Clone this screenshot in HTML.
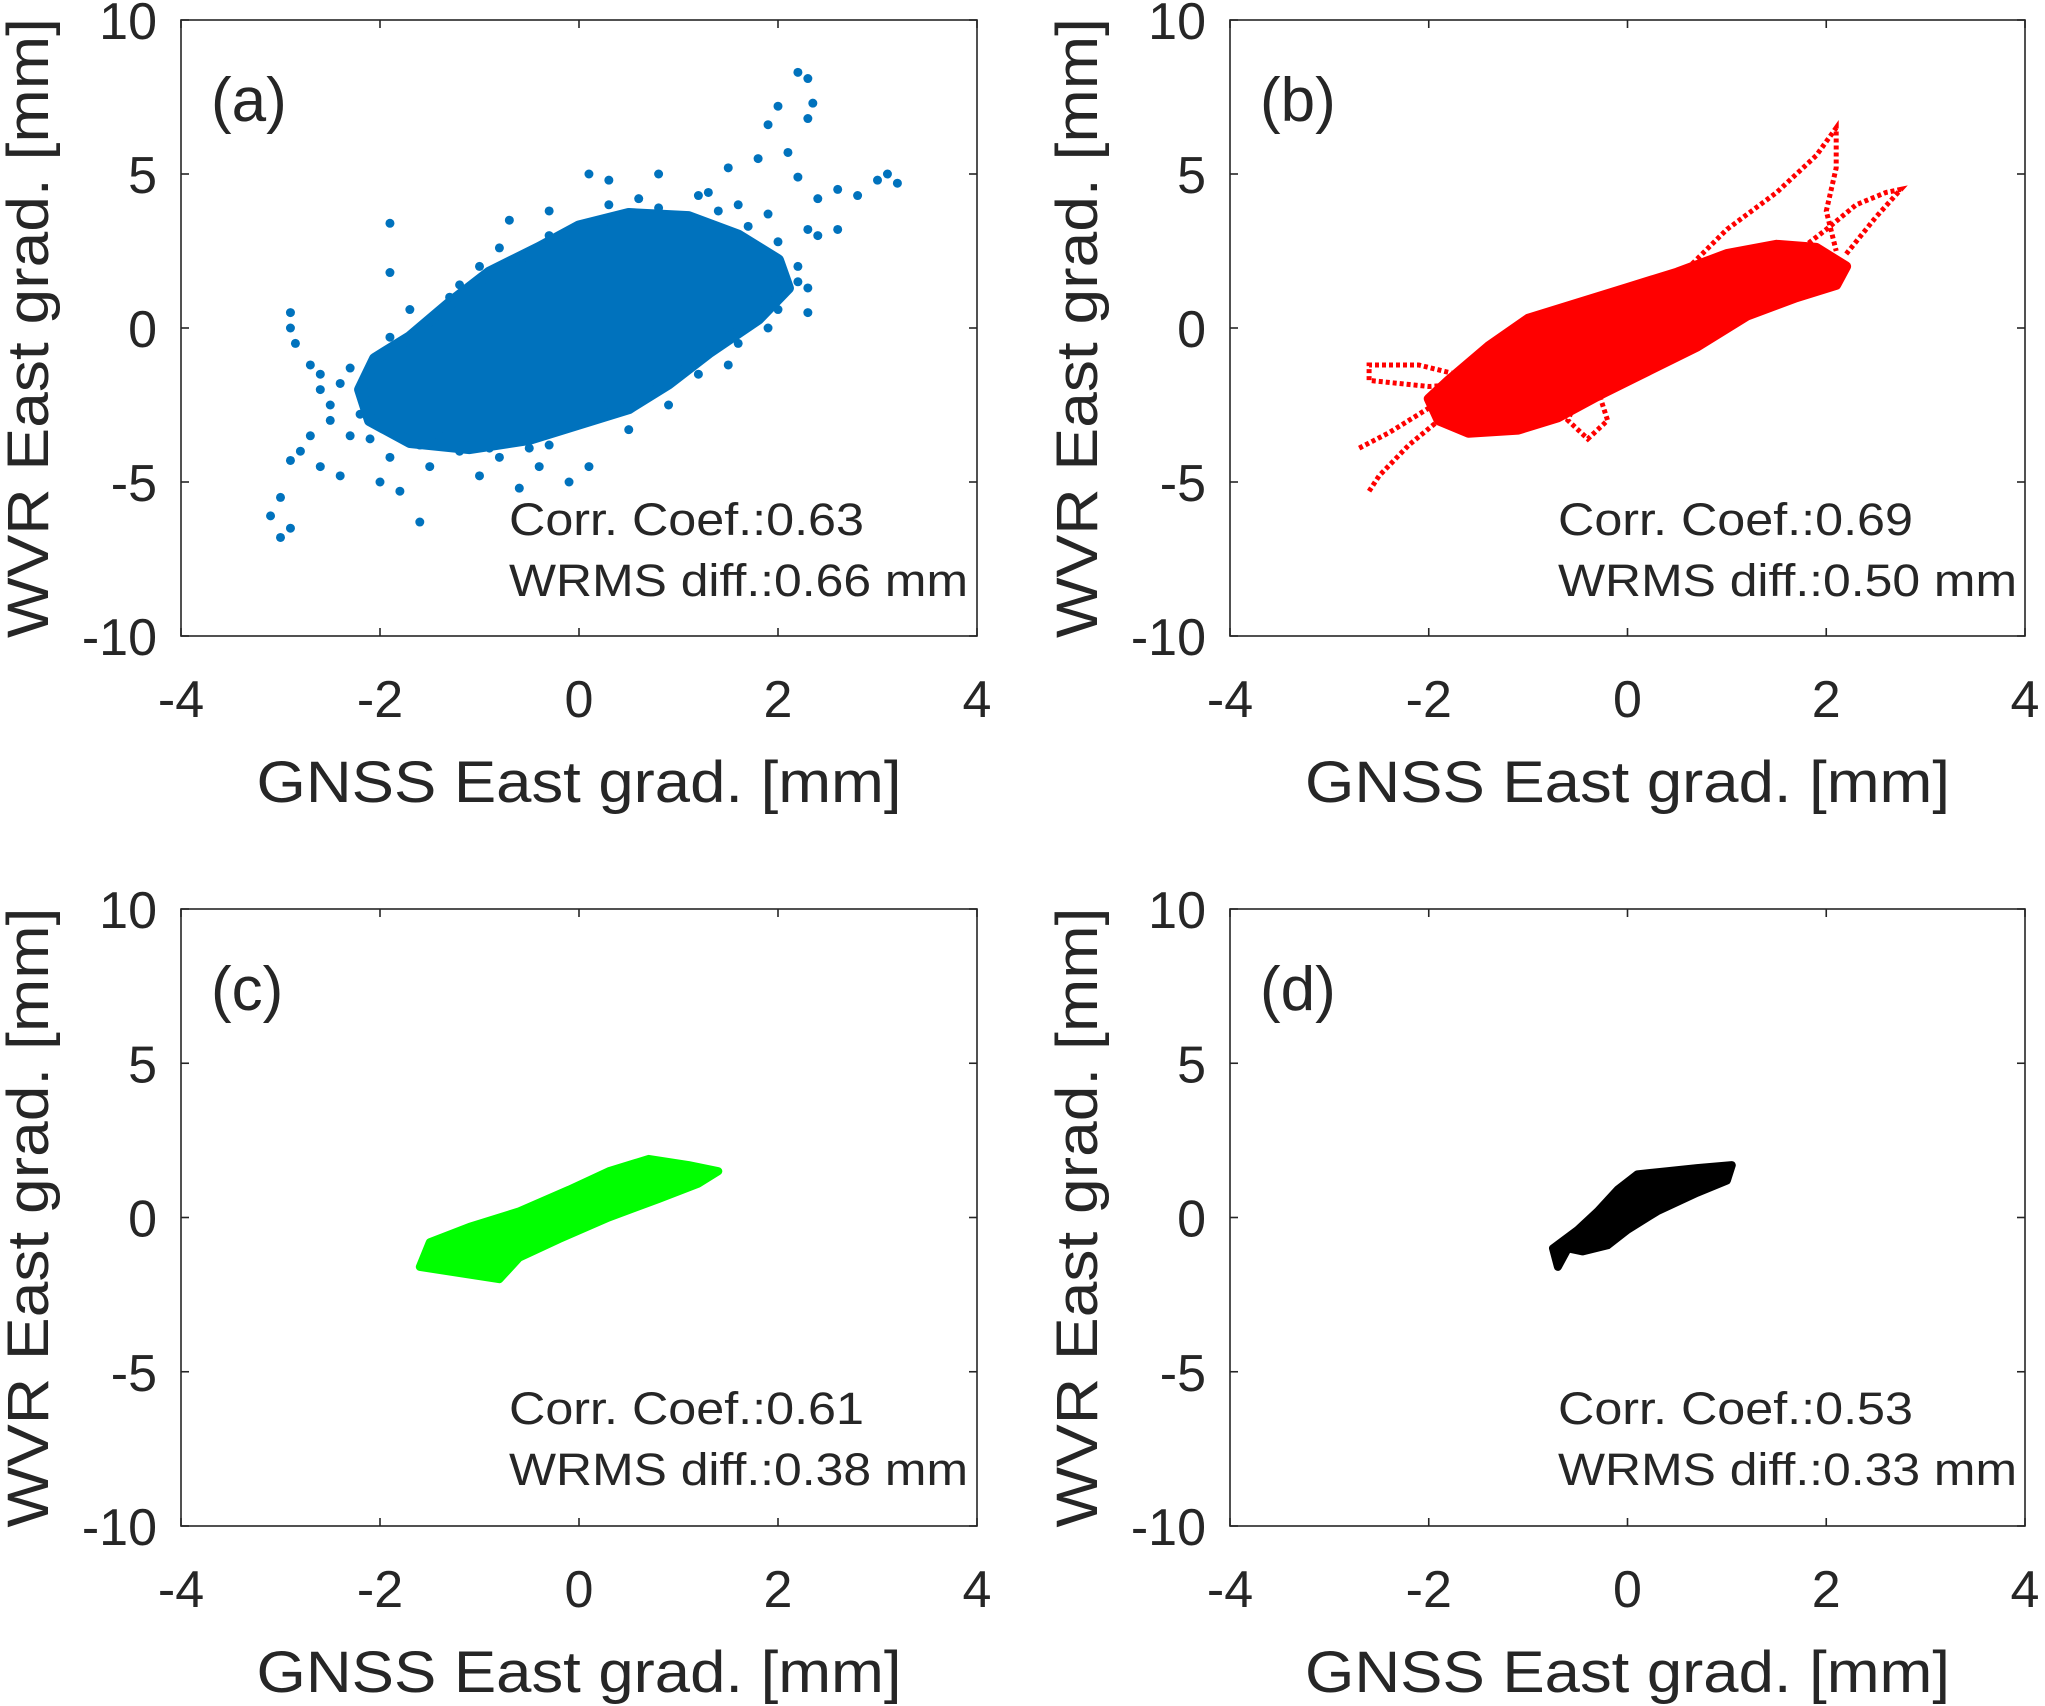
<!DOCTYPE html>
<html><head><meta charset="utf-8"><style>
html,body{margin:0;padding:0;background:#fff}
svg{display:block}
text{font-family:"Liberation Sans",Arial,sans-serif;fill:#262626}
</style></head><body>
<svg id="fig" width="2045" height="1706" viewBox="0 0 2045 1706" xmlns="http://www.w3.org/2000/svg"></svg>
<script>
// ---- data (GNSS east grad, WVR east grad) ----
const xTicks = [-4, -2, 0, 2, 4];
const yTicks = [-10, -5, 0, 5, 10];
const panelLabels = ["(a)", "(b)", "(c)", "(d)"];
const corrValues = ["0.63", "0.69", "0.61", "0.53"];
const wrmsValues = ["0.66", "0.50", "0.38", "0.33"];
// dense-core hulls
const coreA = [[-2.05,-1.0],[-1.7,-0.3],[-1.3,0.8],[-0.9,1.8],[-0.4,2.6],[0.0,3.3],[0.5,3.7],[1.1,3.6],[1.6,3.0],[2.0,2.2],[2.1,1.3],[1.8,0.3],[1.3,-0.8],[0.9,-1.8],[0.5,-2.6],[0.0,-3.1],[-0.5,-3.6],[-1.1,-3.9],[-1.7,-3.7],[-2.1,-3.0],[-2.2,-2.0]];
const outA = [[-3.1,-6.1],[-3.0,-6.8],[-2.9,-6.5],[-3.0,-5.5],[-2.9,-4.3],[-2.8,-4.0],[-2.7,-3.5],[-2.6,-4.5],[-2.5,-3.0],[-2.4,-4.8],[-2.3,-3.5],[-2.5,-2.5],[-2.6,-2.0],[-2.9,0.5],[-2.9,0.0],[-2.85,-0.5],[-2.7,-1.2],[-2.6,-1.5],[-2.4,-1.8],[-1.9,1.8],[-1.9,3.4],[-1.6,-6.3],[-1.8,-5.3],[-2.0,-5.0],[-1.5,-4.5],[-1.2,-4.0],[-1.0,-4.8],[-0.8,-4.2],[-0.6,-5.2],[-0.4,-4.5],[-0.1,-5.0],[0.1,-4.5],[-1.5,0.2],[-1.3,1.0],[-1.0,2.0],[-0.7,3.5],[-0.3,3.8],[0.1,5.0],[0.3,4.8],[0.8,5.0],[1.2,4.3],[1.4,3.8],[1.6,4.0],[1.5,5.2],[1.8,5.5],[1.9,6.6],[2.0,7.2],[2.2,8.3],[2.3,8.1],[2.35,7.3],[2.3,6.8],[2.1,5.7],[2.2,4.9],[2.4,4.2],[2.6,4.5],[2.8,4.3],[3.0,4.8],[3.1,5.0],[3.2,4.7],[2.6,3.2],[2.3,3.2],[2.2,2.0],[2.3,1.3],[2.3,0.5],[1.9,0.0],[1.5,-1.2],[1.2,-1.5],[0.9,-2.5],[0.5,-3.3],[-0.3,-3.8],[-1.6,-3.8],[-2.1,-3.6],[-2.3,-1.3],[-2.2,-2.8],[-1.9,-4.2],[-1.4,-3.5],[-0.9,-3.9],[-0.5,-3.9],[0.3,-2.4],[1.1,-1.0],[1.6,-0.5],[2.0,0.6],[2.2,1.5],[2.0,2.8],[1.7,3.3],[0.8,3.9],[0.3,4.0],[-0.3,3.0],[-0.8,2.6],[-1.2,1.4],[-1.7,0.6],[-1.9,-0.3],[1.3,4.4],[0.6,4.2],[1.9,3.7],[2.4,3.0]];
const coreB = [[-1.8,-1.7],[-1.4,-0.6],[-1.0,0.3],[-0.5,0.8],[0.0,1.3],[0.5,1.8],[1.0,2.4],[1.5,2.7],[1.9,2.6],[2.2,2.0],[2.1,1.4],[1.7,1.0],[1.2,0.4],[0.7,-0.6],[0.2,-1.4],[-0.3,-2.2],[-0.7,-2.9],[-1.1,-3.3],[-1.6,-3.4],[-1.9,-3.0],[-2.0,-2.3]];
const loopB1 = [[-2.6,-5.3],[-2.5,-4.8],[-2.2,-3.8],[-1.9,-3.0],[-1.6,-2.5],[-1.2,-2.0]];
const loopB2 = [[-2.7,-3.9],[-2.4,-3.4],[-2.0,-2.6],[-1.6,-1.6],[-1.2,-1.0]];
const loopB3 = [[-1.6,-1.6],[-2.1,-1.2],[-2.6,-1.2],[-2.6,-1.7],[-2.0,-1.9],[-1.5,-1.8]];
const loopB4 = [[0.5,1.6],[1.0,3.2],[1.5,4.4],[1.9,5.6],[2.1,6.5],[2.1,5.2],[2.0,3.8],[2.1,2.5]];
const loopB5 = [[1.6,2.2],[2.0,3.2],[2.3,4.0],[2.6,4.4],[2.75,4.5],[2.5,3.6],[2.2,2.4]];
const loopB6 = [[-0.3,-2.0],[-0.2,-3.0],[-0.4,-3.6],[-0.6,-3.0],[-0.5,-2.2]];
const coreC = [[-1.6,-1.6],[-1.5,-0.8],[-1.1,-0.3],[-0.6,0.2],[-0.1,0.9],[0.3,1.5],[0.7,1.9],[1.1,1.7],[1.4,1.5],[1.2,1.1],[0.8,0.6],[0.3,0.0],[-0.2,-0.7],[-0.6,-1.3],[-0.8,-2.0],[-1.2,-1.8]];
const coreD = [[-0.7,-1.6],[-0.75,-1.0],[-0.5,-0.4],[-0.3,0.2],[-0.1,0.9],[0.1,1.4],[0.4,1.5],[0.7,1.6],[1.05,1.7],[1.0,1.2],[0.7,0.8],[0.3,0.2],[0.0,-0.4],[-0.2,-0.9],[-0.45,-1.1],[-0.6,-1.0]];

// ---- layout ----
const panels = [
  {x0:181, x1:977, y0:20, y1:636, color:"#0072BD"},
  {x0:1230, x1:2025, y0:20, y1:636, color:"#FF0000"},
  {x0:181, x1:977, y0:909, y1:1526, color:"#00FF00"},
  {x0:1230, x1:2025, y0:909, y1:1526, color:"#000000"}
];
const NS = "http://www.w3.org/2000/svg";
const svg = document.getElementById("fig");
function mk(tag, attrs, parent){ const e=document.createElementNS(NS,tag); for(const k in attrs) e.setAttribute(k,attrs[k]); (parent||svg).appendChild(e); return e; }
function sx(p,v){ return p.x0+(v+4)/8*(p.x1-p.x0); }
function sy(p,v){ return p.y1-(v+10)/20*(p.y1-p.y0); }
function hullPath(p,arr){ return arr.map((d,i)=>(i?"L":"M")+sx(p,d[0]).toFixed(1)+" "+sy(p,d[1]).toFixed(1)).join(" ")+"Z"; }
function linePath(p,arr){ return arr.map((d,i)=>(i?"L":"M")+sx(p,d[0]).toFixed(1)+" "+sy(p,d[1]).toFixed(1)).join(" "); }

panels.forEach((p,i)=>{
  const g = mk("g",{});
  
  
  if(i===0){
    const c = mk("path",{d:hullPath(p,coreA),fill:p.color,stroke:p.color,"stroke-width":12,"stroke-linejoin":"round"},g);
    
    
    outA.forEach(d=>{
      const pt = mk("circle",{cx:sx(p,d[0]),cy:sy(p,d[1]),r:4.5,fill:p.color},g);
      
      
    });
  } else if(i===1){
    const c = mk("path",{d:hullPath(p,coreB),fill:p.color,stroke:p.color,"stroke-width":10,"stroke-linejoin":"round"},g);
    
    
    [loopB1,loopB2,loopB3,loopB4,loopB5,loopB6].forEach(L=>{
      const l = mk("path",{d:linePath(p,L),fill:"none",stroke:p.color,"stroke-width":5,"stroke-dasharray":"4 3"},g);
      
      
    });
  } else {
    const core = i===2?coreC:coreD;
    const c = mk("path",{d:hullPath(p,core),fill:p.color,stroke:p.color,"stroke-width":8,"stroke-linejoin":"round"},g);
    
    
  }
  const box = mk("rect",{x:p.x0,y:p.y0,width:p.x1-p.x0,height:p.y1-p.y0,fill:"none",stroke:"#262626","stroke-width":1.6},g);
  
  
  xTicks.forEach(t=>{
    const x=sx(p,t);
    mk("line",{x1:x,x2:x,y1:p.y1,y2:p.y1-8,stroke:"#262626","stroke-width":1.6},g);
    mk("line",{x1:x,x2:x,y1:p.y0,y2:p.y0+8,stroke:"#262626","stroke-width":1.6},g);
    const tl = mk("text",{x:x,y:p.y1+81,"font-size":52,"text-anchor":"middle"},g);
    tl.textContent = t;
    
    
  });
  yTicks.forEach(t=>{
    const y=sy(p,t);
    mk("line",{x1:p.x0,x2:p.x0+8,y1:y,y2:y,stroke:"#262626","stroke-width":1.6},g);
    mk("line",{x1:p.x1,x2:p.x1-8,y1:y,y2:y,stroke:"#262626","stroke-width":1.6},g);
    const tl = mk("text",{x:p.x0-24,y:y+19,"font-size":52,"text-anchor":"end"},g);
    tl.textContent = t;
    
    
  });
  const xt = mk("text",{x:(p.x0+p.x1)/2,y:p.y1+166,"font-size":58,"text-anchor":"middle",textLength:645,lengthAdjust:"spacingAndGlyphs"},g);
  xt.textContent = "GNSS East grad. [mm]";
  
  
  const cy=(p.y0+p.y1)/2;
  const yt = mk("text",{x:p.x0-133,y:cy,"font-size":58,"text-anchor":"middle",transform:`rotate(-90 ${p.x0-133} ${cy})`,textLength:620,lengthAdjust:"spacingAndGlyphs"},g);
  yt.textContent = "WVR East grad. [mm]";
  
  
  const pl = mk("text",{x:p.x0+30,y:p.y0+101,"font-size":62,fill:"#000"},g);
  pl.textContent = panelLabels[i];
  
  
  const a1 = mk("text",{x:p.x0+328,y:p.y0+515,"font-size":45,fill:"#000",textLength:355,lengthAdjust:"spacingAndGlyphs"},g);
  a1.textContent = "Corr. Coef.:"+corrValues[i];
  
  
  const a2 = mk("text",{x:p.x0+328,y:p.y0+576,"font-size":45,fill:"#000",textLength:459,lengthAdjust:"spacingAndGlyphs"},g);
  a2.textContent = "WRMS diff.:"+wrmsValues[i]+" mm";
  
  
});
</script>
</body></html>
